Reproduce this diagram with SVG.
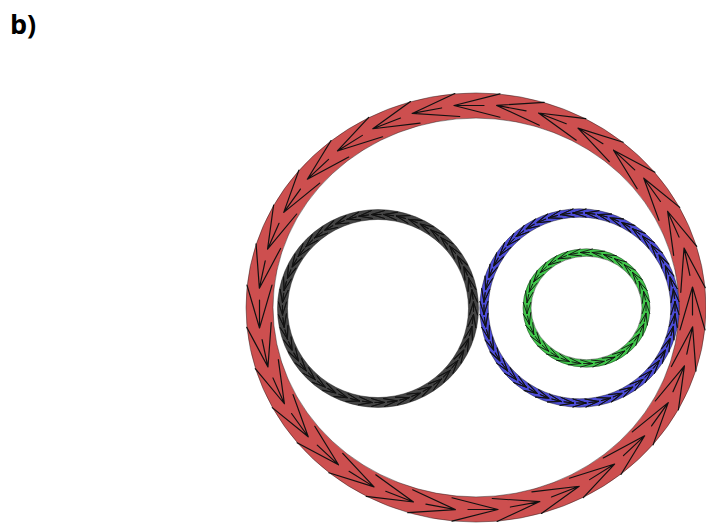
<svg xmlns="http://www.w3.org/2000/svg" xmlns:xlink="http://www.w3.org/1999/xlink" width="706" height="525" viewBox="0 0 706 525">
<style>
.band{fill:none}
.edge{fill:none;stroke:#111;stroke-width:0.8;stroke-opacity:0.55}
.chev{fill:none;stroke:#111;stroke-linecap:round;stroke-linejoin:round}
.lbl{font-family:"Open Sans","Liberation Sans",sans-serif;font-weight:bold;font-size:27px;fill:#000}
</style>
<defs>
  <!-- red chevron: at top of circle r=216.5, pointing left (counterclockwise flow) -->
  <path id="rc" class="chev" stroke-width="1.2" d="M-22,-216.5 L24,-229 M-22,-216.5 L24,-204 M-22,-216.5 L8,-216.5"/>
  <g id="r1"><use href="#rc"/><use href="#rc" transform="rotate(11.25)"/></g>
  <g id="r2"><use href="#r1"/><use href="#r1" transform="rotate(22.5)"/></g>
  <g id="r4"><use href="#r2"/><use href="#r2" transform="rotate(45)"/></g>
  <g id="r8"><use href="#r4"/><use href="#r4" transform="rotate(90)"/></g>
  <g id="r16"><use href="#r8"/><use href="#r8" transform="rotate(180)"/></g>
  <!-- small chevron: circle r=95.5 -->
  <path id="sc" class="chev" stroke-width="0.9" d="M-6.5,-95.5 L6.5,-99.5 M-6.5,-95.5 L6.5,-91.5 M-6.5,-95.5 L3,-95.5"/>
  <g id="s1"><use href="#sc"/><use href="#sc" transform="rotate(7.5)"/></g>
  <g id="s2"><use href="#s1"/><use href="#s1" transform="rotate(15)"/></g>
  <g id="s4"><use href="#s2"/><use href="#s2" transform="rotate(30)"/></g>
  <g id="s8"><use href="#s4"/><use href="#s4" transform="rotate(60)"/></g>
  <g id="s24"><use href="#s8"/><use href="#s8" transform="rotate(120)"/><use href="#s8" transform="rotate(240)"/></g>
  <!-- green chevron: circle r=59.5 -->
  <path id="gc" class="chev" stroke-width="0.9" d="M-6,-59.5 L6,-63.3 M-6,-59.5 L6,-55.7 M-6,-59.5 L3,-59.5"/>
  <g id="g1"><use href="#gc"/><use href="#gc" transform="rotate(11.25)"/></g>
  <g id="g2"><use href="#g1"/><use href="#g1" transform="rotate(22.5)"/></g>
  <g id="g4"><use href="#g2"/><use href="#g2" transform="rotate(45)"/></g>
  <g id="g8"><use href="#g4"/><use href="#g4" transform="rotate(90)"/></g>
  <g id="g16"><use href="#g8"/><use href="#g8" transform="rotate(180)"/></g>
</defs>

<rect width="706" height="525" fill="#fff"/>
<text class="lbl" x="10" y="34">b)</text>

<g id="red-ring" transform="translate(476,307.5) scale(1,0.933)">
  <circle class="band" r="216.5" stroke="#CD4F4F" stroke-width="27"/>
  <circle class="edge" r="230"/>
  <circle class="edge" r="203"/>
  <use href="#r16"/>
</g>

<g id="black-ring" transform="translate(378,308.5) scale(1,0.984)">
  <circle class="band" r="95.5" stroke="#444444" stroke-width="10"/>
  <circle class="edge" r="100.5"/>
  <circle class="edge" r="90.5"/>
  <use href="#s24"/><use href="#s24" transform="rotate(180)"/>
</g>

<g id="blue-ring" transform="translate(579.5,308) scale(1,0.995)">
  <circle class="band" r="95.5" stroke="#4C4CD6" stroke-width="8.5"/>
  <circle class="edge" r="99.7"/>
  <circle class="edge" r="91.3"/>
  <use href="#s24"/><use href="#s24" transform="rotate(180)"/>
</g>

<g id="green-ring" transform="translate(586.5,308) scale(1,0.933)">
  <circle class="band" r="59.5" stroke="#42C84C" stroke-width="8"/>
  <circle class="edge" r="63.5"/>
  <circle class="edge" r="55.5"/>
  <use href="#g16"/>
</g>
</svg>
